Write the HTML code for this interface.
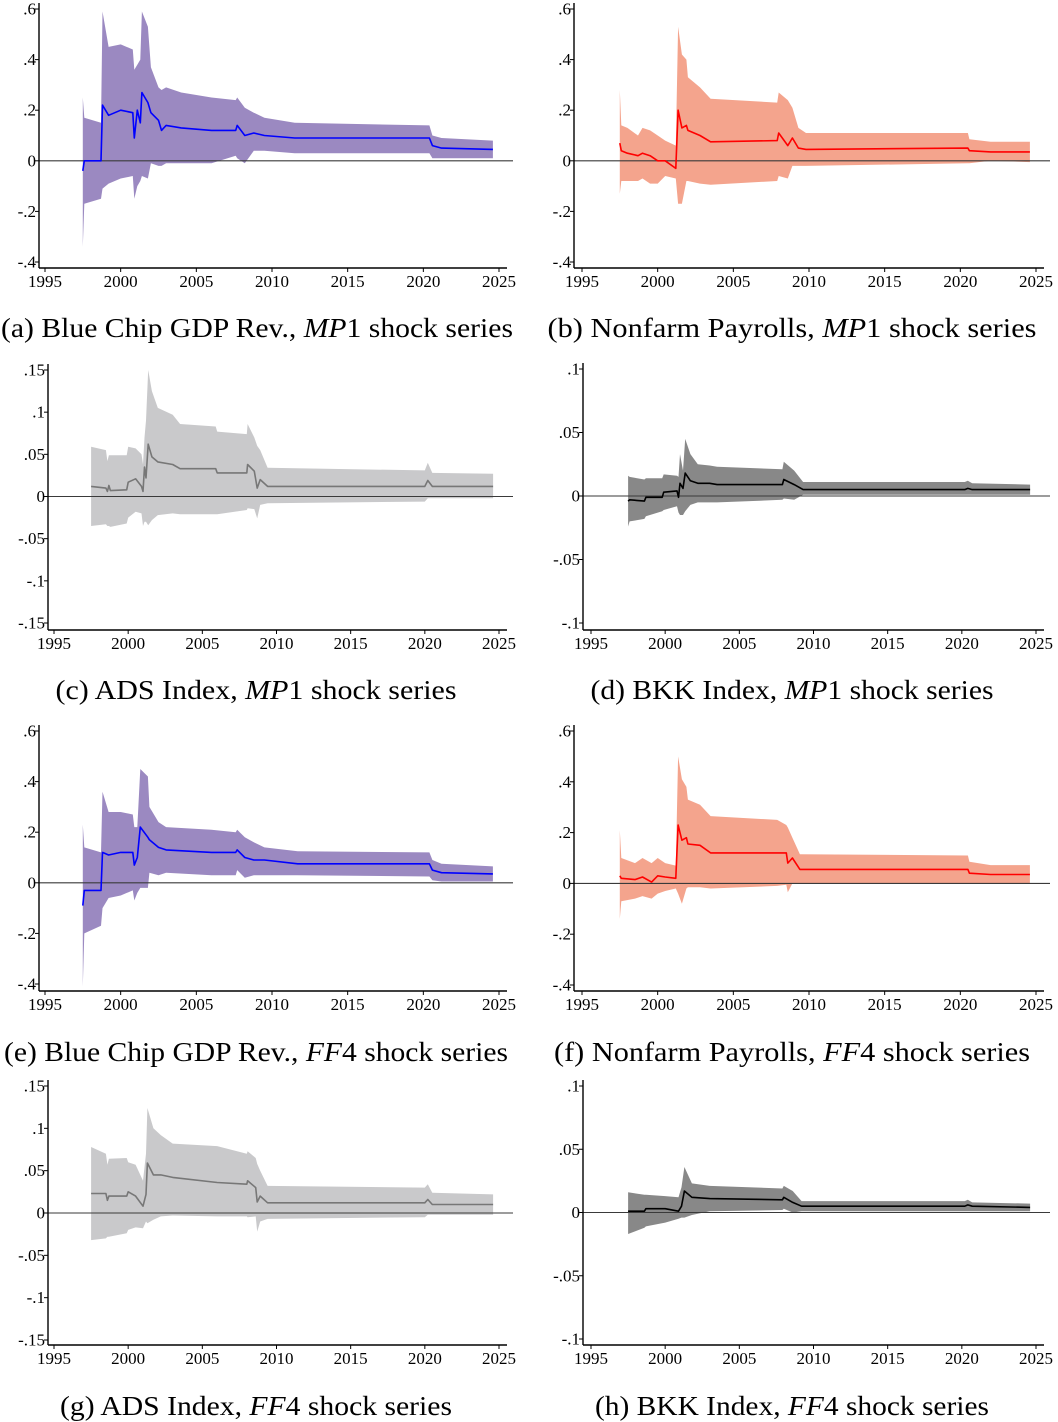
<!DOCTYPE html>
<html><head><meta charset="utf-8"><style>
html,body{margin:0;padding:0;background:#fff;}
svg{display:block;font-family:"Liberation Serif",serif;}
</style></head><body>
<svg id="fig" width="1058" height="1422" viewBox="0 0 1058 1422" xmlns="http://www.w3.org/2000/svg"></svg>
<script>
const xTickLabels=["1995","2000","2005","2010","2015","2020","2025"];
const xTickYears=[1995,2000,2005,2010,2015,2020,2025];
const bigTicks=[0.6,0.4,0.2,0,-0.2,-0.4];
const bigTickLabels=[".6",".4",".2","0","-.2","-.4"];
const adsTicks=[0.15,0.1,0.05,0,-0.05,-0.1,-0.15];
const adsTickLabels=[".15",".1",".05","0","-.05","-.1","-.15"];
const bkkTicks=[0.1,0.05,0,-0.05,-0.1];
const bkkTickLabels=[".1",".05","0","-.05","-.1"];

const aYears=[1997.5,1997.6,1998.7,1998.8,1999.2,2000,2000.8,2000.9,2001.1,2001.3,2001.4,2001.8,2002,2002.5,2002.7,2003,2004,2006,2007.6,2007.7,2008.2,2008.8,2009.5,2011.5,2020.4,2020.6,2021.2,2024.6];
const aLow=[-0.34,-0.17,-0.15,-0.11,-0.09,-0.07,-0.06,-0.15,-0.10,-0.08,-0.06,-0.07,-0.01,-0.02,-0.02,-0.01,-0.01,-0.01,0.02,0.01,-0.01,0.04,0.04,0.03,0.03,0.01,0.01,0.01];
const aMid=[-0.04,0.0,0.0,0.22,0.18,0.20,0.19,0.09,0.20,0.15,0.27,0.23,0.19,0.16,0.12,0.14,0.13,0.12,0.12,0.14,0.10,0.11,0.10,0.09,0.09,0.06,0.05,0.045];
const aHigh=[0.25,0.17,0.15,0.59,0.45,0.46,0.44,0.36,0.38,0.40,0.59,0.53,0.37,0.29,0.28,0.29,0.27,0.25,0.24,0.25,0.21,0.19,0.17,0.15,0.14,0.10,0.09,0.08];

const bYears=[1997.5,1997.6,1998,1998.7,1999,1999.5,2000,2000.5,2001.2,2001.35,2001.6,2001.9,2002,2002.8,2003.5,2007.9,2008,2008.6,2008.9,2009.3,2009.8,2020.5,2020.6,2022,2024.6];
const bLow=[-0.13,-0.08,-0.08,-0.08,-0.07,-0.09,-0.09,-0.06,-0.07,-0.17,-0.17,-0.08,-0.08,-0.09,-0.095,-0.08,-0.06,-0.07,-0.02,-0.02,-0.02,-0.01,-0.01,0,-0.005];
const bMid=[0.07,0.04,0.03,0.02,0.03,0.02,0.0,0.0,-0.03,0.20,0.13,0.14,0.12,0.10,0.075,0.08,0.11,0.06,0.09,0.05,0.045,0.05,0.04,0.035,0.035];
const bHigh=[0.28,0.14,0.13,0.10,0.13,0.12,0.10,0.08,0.06,0.53,0.42,0.40,0.33,0.29,0.245,0.23,0.27,0.24,0.21,0.13,0.11,0.11,0.085,0.075,0.075];

const cYears=[1997.5,1998.5,1998.6,1998.7,1998.8,1999.9,2000,2000.5,2000.9,2001.0,2001.1,2001.2,2001.35,2001.6,2002,2003,2003.5,2005.9,2006,2008,2008.05,2008.5,2008.7,2008.9,2009.4,2020,2020.2,2020.5,2024.6];
const cLow=[-0.035,-0.033,-0.035,-0.035,-0.036,-0.032,-0.025,-0.018,-0.02,-0.035,-0.03,-0.03,-0.034,-0.028,-0.022,-0.02,-0.021,-0.021,-0.021,-0.016,-0.014,-0.015,-0.026,-0.01,-0.008,-0.006,-0.002,-0.002,-0.002];
const cMid=[0.012,0.010,0.006,0.013,0.007,0.008,0.017,0.021,0.012,0.006,0.035,0.022,0.062,0.047,0.041,0.038,0.033,0.033,0.028,0.028,0.038,0.03,0.01,0.02,0.012,0.012,0.019,0.012,0.012];
const cHigh=[0.059,0.055,0.042,0.049,0.049,0.049,0.059,0.057,0.05,0.038,0.07,0.09,0.15,0.125,0.105,0.097,0.086,0.083,0.077,0.074,0.086,0.07,0.06,0.055,0.034,0.031,0.04,0.028,0.027];

const dYears=[1997.5,1997.6,1998.6,1998.7,1999.8,1999.9,2000.8,2000.9,2001.0,2001.2,2001.35,2001.7,2002.2,2003,2003.5,2007.9,2008,2008.7,2009.3,2020.2,2020.4,2020.7,2024.6];
const dLow=[-0.024,-0.02,-0.018,-0.016,-0.012,-0.011,-0.008,-0.013,-0.015,-0.015,-0.012,-0.007,-0.005,-0.005,-0.005,-0.003,-0.002,-0.003,0.001,0.001,0.001,0.001,0.001];
const dMid=[-0.004,-0.003,-0.004,-0.001,-0.001,0.003,0.004,-0.001,0.01,0.006,0.018,0.012,0.01,0.01,0.009,0.009,0.013,0.009,0.005,0.005,0.006,0.005,0.005];
const dHigh=[0.016,0.015,0.013,0.014,0.014,0.017,0.016,0.015,0.033,0.02,0.045,0.033,0.025,0.024,0.023,0.021,0.027,0.02,0.011,0.011,0.012,0.01,0.009];

const eYears=[1997.5,1997.6,1998.7,1998.8,1999.2,2000,2000.8,2000.9,2001.1,2001.3,2001.8,2001.9,2002.5,2003,2006,2007.6,2007.7,2008.2,2008.8,2009.5,2011.7,2020.4,2020.6,2021.2,2024.6];
const eLow=[-0.41,-0.2,-0.17,-0.1,-0.06,-0.05,-0.03,-0.07,-0.04,-0.02,-0.02,0.04,0.03,0.04,0.03,0.03,0.05,0.02,0.03,0.03,0.03,0.025,0.01,0.005,0.005];
const eMid=[-0.09,-0.03,-0.03,0.12,0.11,0.12,0.12,0.07,0.10,0.22,0.18,0.17,0.14,0.13,0.12,0.12,0.13,0.10,0.09,0.09,0.075,0.075,0.05,0.04,0.035];
const eHigh=[0.23,0.14,0.12,0.36,0.28,0.28,0.27,0.22,0.22,0.45,0.42,0.30,0.24,0.22,0.21,0.20,0.21,0.18,0.16,0.14,0.125,0.12,0.09,0.075,0.065];

const fYears=[1997.5,1997.6,1998.5,1999,1999.6,2000,2000.5,2001.2,2001.35,2001.6,2001.9,2002,2002.8,2003.5,2007.9,2008.5,2008.6,2008.9,2009.4,2020.5,2020.6,2022,2024.6];
const fLow=[-0.14,-0.07,-0.06,-0.05,-0.06,-0.04,-0.03,-0.02,-0.04,-0.08,-0.02,-0.015,-0.015,-0.02,-0.01,-0.005,-0.035,0,0,0,0,0,0];
const fMid=[0.03,0.02,0.015,0.025,0.005,0.03,0.025,0.02,0.23,0.17,0.18,0.155,0.15,0.12,0.12,0.12,0.08,0.10,0.055,0.055,0.04,0.035,0.035];
const fHigh=[0.21,0.10,0.08,0.10,0.08,0.10,0.08,0.07,0.50,0.41,0.38,0.33,0.31,0.265,0.25,0.23,0.22,0.18,0.115,0.11,0.085,0.072,0.072];

const gYears=[1997.5,1998.5,1998.6,1998.7,1999.9,2000,2000.5,2001.0,2001.2,2001.3,2001.7,2002.2,2003,2006,2008,2008.05,2008.6,2008.7,2008.9,2009.4,2020,2020.2,2020.5,2024.6];
const gLow=[-0.032,-0.03,-0.028,-0.028,-0.024,-0.02,-0.017,-0.018,-0.01,-0.012,-0.008,-0.004,-0.003,-0.004,-0.004,-0.005,-0.004,-0.022,-0.01,-0.007,-0.005,-0.002,-0.002,-0.002];
const gMid=[0.023,0.023,0.015,0.02,0.02,0.025,0.02,0.008,0.022,0.059,0.045,0.045,0.042,0.036,0.034,0.038,0.03,0.013,0.02,0.012,0.012,0.016,0.01,0.01];
const gHigh=[0.078,0.07,0.057,0.064,0.065,0.06,0.057,0.038,0.07,0.124,0.1,0.092,0.082,0.079,0.07,0.073,0.065,0.058,0.05,0.032,0.03,0.034,0.024,0.022];

const hYears=[1997.5,1998.6,1998.7,2000,2000.9,2001.1,2001.3,2001.8,2003,2007.9,2008,2008.6,2009.2,2020.2,2020.4,2020.7,2024.6];
const hLow=[-0.017,-0.012,-0.011,-0.008,-0.005,-0.004,-0.004,-0.002,0.001,0.002,0.003,0,0.001,0.001,0.001,0.001,0.001];
const hMid=[0.001,0.001,0.003,0.003,0.001,0.005,0.017,0.012,0.011,0.01,0.012,0.008,0.005,0.005,0.006,0.005,0.004];
const hHigh=[0.016,0.014,0.014,0.013,0.012,0.02,0.036,0.023,0.021,0.019,0.021,0.017,0.009,0.009,0.01,0.008,0.007];

const NS="http://www.w3.org/2000/svg";
const svg=document.getElementById('fig');
function mk(tag,attrs,parent){const e=document.createElementNS(NS,tag);for(const k in attrs)e.setAttribute(k,attrs[k]);(parent||svg).appendChild(e);return e;}

function panel(p){
  const g=mk('g',{});
  
  
  const xs=y=>p.x0+(y-1995)*(p.x1-p.x0)/30;
  const ys=v=>p.yTop+(p.tMax-v)*(p.yBot-p.yTop)/(p.tMax-p.tMin);
  let d='';
  p.years.forEach((yr,i)=>{d+=(i?'L':'M')+xs(yr).toFixed(1)+','+ys(p.hi[i]).toFixed(1);});
  for(let i=p.years.length-1;i>=0;i--)d+='L'+xs(p.years[i]).toFixed(1)+','+ys(p.lo[i]).toFixed(1);
  const band=mk('path',{d:d+'Z',fill:p.band,stroke:'none'},g);
  
  
  const zl=mk('line',{x1:p.ax,x2:p.xEnd,y1:ys(0),y2:ys(0),stroke:'#3a3a3a','stroke-width':1.1},g);
  
  
  let m='';
  p.years.forEach((yr,i)=>{m+=(i?'L':'M')+xs(yr).toFixed(1)+','+ys(p.mid[i]).toFixed(1);});
  const ln=mk('path',{d:m,fill:'none',stroke:p.line,'stroke-width':1.6,'stroke-linejoin':'round'},g);
  
  
  const ya=mk('line',{x1:p.ax,x2:p.ax,y1:p.yTop-6,y2:p.axY,stroke:'#000','stroke-width':1.4},g);
  
  
  const xa=mk('line',{x1:p.ax,x2:p.xEnd-6,y1:p.axY,y2:p.axY,stroke:'#000','stroke-width':1.4},g);
  
  
  p.ticks.forEach((v,i)=>{
    mk('line',{x1:p.ax-4,x2:p.ax,y1:ys(v),y2:ys(v),stroke:'#000','stroke-width':1},g);
    const t=mk('text',{x:p.ax-3,y:ys(v)+5.5,'text-anchor':'end','font-size':17},g);
    
    
    t.textContent=p.tickLabels[i];
  });
  xTickYears.forEach((yr,i)=>{
    mk('line',{x1:xs(yr),x2:xs(yr),y1:p.axY,y2:p.axY+4,stroke:'#000','stroke-width':1},g);
    const t=mk('text',{x:xs(yr),y:p.axY+19,'text-anchor':'middle','font-size':17},g);
    
    
    t.textContent=xTickLabels[i];
  });
  const c=mk('text',{x:p.capX,y:p.capY,'text-anchor':'middle','font-size':27,textLength:p.capW,lengthAdjust:'spacingAndGlyphs'},g);
  
  
  c.appendChild(document.createTextNode(p.cap1));
  const it=mk('tspan',{'font-style':'italic'},c);it.textContent=p.capI;
  c.appendChild(document.createTextNode(p.cap2));
}

const BLUE='#9b89c1',RED='#f4a48d',LG='#c9c9cb',DG='#888888';
panel({name:'panel-a',ax:39,x0:45,x1:499,xEnd:513,yTop:9,yBot:262,axY:268,tMax:0.6,tMin:-0.4,ticks:bigTicks,tickLabels:bigTickLabels,years:aYears,lo:aLow,mid:aMid,hi:aHigh,band:BLUE,line:'#0000ff',capX:257,capY:337,capW:512,cap1:'(a) Blue Chip GDP Rev., ',capI:'MP',cap2:'1 shock series'});
panel({name:'panel-b',ax:574,x0:582,x1:1036,xEnd:1050,yTop:9,yBot:262,axY:268,tMax:0.6,tMin:-0.4,ticks:bigTicks,tickLabels:bigTickLabels,years:bYears,lo:bLow,mid:bMid,hi:bHigh,band:RED,line:'#ff0000',capX:792,capY:337,capW:489,cap1:'(b) Nonfarm Payrolls, ',capI:'MP',cap2:'1 shock series'});
panel({name:'panel-c',ax:48,x0:54,x1:499,xEnd:513,yTop:370,yBot:623,axY:630,tMax:0.15,tMin:-0.15,ticks:adsTicks,tickLabels:adsTickLabels,years:cYears,lo:cLow,mid:cMid,hi:cHigh,band:LG,line:'#777777',capX:256,capY:699,capW:401,cap1:'(c) ADS Index, ',capI:'MP',cap2:'1 shock series'});
panel({name:'panel-d',ax:583,x0:591,x1:1036,xEnd:1050,yTop:369,yBot:623,axY:630,tMax:0.1,tMin:-0.1,ticks:bkkTicks,tickLabels:bkkTickLabels,years:dYears,lo:dLow,mid:dMid,hi:dHigh,band:DG,line:'#000000',capX:792,capY:699,capW:403,cap1:'(d) BKK Index, ',capI:'MP',cap2:'1 shock series'});
panel({name:'panel-e',ax:39,x0:45,x1:499,xEnd:513,yTop:731,yBot:984,axY:991,tMax:0.6,tMin:-0.4,ticks:bigTicks,tickLabels:bigTickLabels,years:eYears,lo:eLow,mid:eMid,hi:eHigh,band:BLUE,line:'#0000ff',capX:256,capY:1061,capW:504,cap1:'(e) Blue Chip GDP Rev., ',capI:'FF',cap2:'4 shock series'});
panel({name:'panel-f',ax:574,x0:582,x1:1036,xEnd:1050,yTop:731,yBot:985,axY:991,tMax:0.6,tMin:-0.4,ticks:bigTicks,tickLabels:bigTickLabels,years:fYears,lo:fLow,mid:fMid,hi:fHigh,band:RED,line:'#ff0000',capX:792,capY:1061,capW:476,cap1:'(f) Nonfarm Payrolls, ',capI:'FF',cap2:'4 shock series'});
panel({name:'panel-g',ax:48,x0:54,x1:499,xEnd:513,yTop:1086,yBot:1340,axY:1345,tMax:0.15,tMin:-0.15,ticks:adsTicks,tickLabels:adsTickLabels,years:gYears,lo:gLow,mid:gMid,hi:gHigh,band:LG,line:'#777777',capX:256,capY:1415,capW:392,cap1:'(g) ADS Index, ',capI:'FF',cap2:'4 shock series'});
panel({name:'panel-h',ax:583,x0:591,x1:1036,xEnd:1050,yTop:1086,yBot:1339,axY:1345,tMax:0.1,tMin:-0.1,ticks:bkkTicks,tickLabels:bkkTickLabels,years:hYears,lo:hLow,mid:hMid,hi:hHigh,band:DG,line:'#000000',capX:792,capY:1415,capW:394,cap1:'(h) BKK Index, ',capI:'FF',cap2:'4 shock series'});
</script>
</body></html>
